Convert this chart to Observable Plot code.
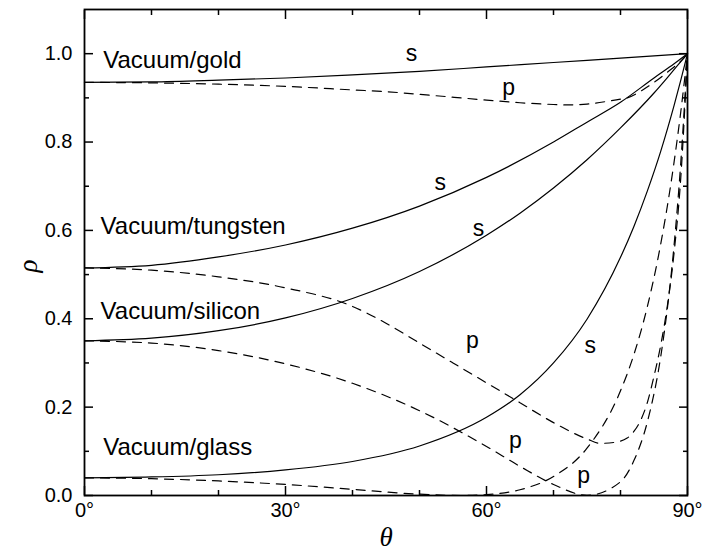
<!DOCTYPE html>
<html><head><meta charset="utf-8">
<script src="https://cdn.jsdelivr.net/npm/d3@7"></script>
<script src="https://cdn.jsdelivr.net/npm/@observablehq/plot@0.6"></script>
<style>body{margin:0;background:#fff}</style>
</head><body><div id="chart"></div>
<script>
// ---- data ----
const goldSAngles = [0,10,20,30,40,50,60,70,80,90];
const goldS       = [0.935,0.936,0.94,0.945,0.952,0.96,0.97,0.98,0.99,1.0];
const goldPAngles = [0,10,20,30,40,45,50,60,65,70,72,75,78,80,81,83,85,87,88,89,90];
const goldP       = [0.935,0.934,0.931,0.926,0.918,0.914,0.908,0.895,0.889,0.885,0.884,0.886,0.892,0.897,0.90,0.915,0.935,0.958,0.97,0.983,1.0];

const tungSAngles = [0,10,20,30,40,50,60,70,75,80,85,88,90];
const tungS       = [0.515,0.521,0.54,0.567,0.605,0.655,0.72,0.80,0.845,0.89,0.945,0.977,1.0];
const tungPAngles = [0,10,20,30,40,45,50,55,60,65,70,75,77,79,81,82,83,84,85,86,87,88,89,90];
const tungP       = [0.515,0.51,0.495,0.47,0.428,0.39,0.345,0.30,0.255,0.21,0.165,0.128,0.118,0.12,0.13,0.145,0.17,0.21,0.27,0.34,0.43,0.55,0.72,1.0];

const siSAngles = [0,10,20,30,40,50,60,65,70,75,80,85,87,89,90];
const siS       = [0.350,0.356,0.373,0.402,0.446,0.507,0.589,0.639,0.696,0.760,0.832,0.911,0.946,0.982,1.0];
const siPAngles = [0,10,20,30,40,50,60,65,70,75,80,82,84,86,87,88,89,90];
const siP       = [0.350,0.345,0.328,0.298,0.254,0.192,0.111,0.066,0.025,0.0004,0.031,0.079,0.166,0.314,0.424,0.567,0.754,1.0];

const glSAngles = [0,10,20,30,40,50,60,65,70,75,80,82,84,86,88,89,90];
const glS       = [0.040,0.042,0.047,0.058,0.077,0.112,0.177,0.228,0.300,0.399,0.539,0.609,0.689,0.779,0.883,0.940,1.0];
const glPAngles = [0,10,20,30,40,50,56.3,60,65,70,75,80,82,84,86,88,89,90];
const glP       = [0.040,0.038,0.033,0.025,0.014,0.003,0.0,0.002,0.013,0.043,0.107,0.237,0.319,0.427,0.569,0.755,0.869,1.0];

const xMajor = [0,30,60,90];
const xMinor = [10,20,40,50,70,80];
const yMajor = [0,0.2,0.4,0.6,0.8,1.0];
const yMinor = [0.1,0.3,0.5,0.7,0.9];

const curveLabels = ["Vacuum/gold","Vacuum/tungsten","Vacuum/silicon","Vacuum/glass"];
const curveLabelX = [2.8,2.4,2.4,2.8];
const curveLabelY = [0.985,0.61,0.417,0.109];

const polLabels = ["s","p","s","s","p","s","p","p"];
const polLabelX = [48.8,63.3,53.1,58.8,57.9,75.5,64.3,74.5];
const polLabelY = [1.001,0.924,0.709,0.605,0.351,0.34,0.125,0.045];

// ---- build tables ----
function rows(name, pol, angles, vals){ return angles.map((a,i)=>({theta:a, rho:vals[i], curve:name+"-"+pol, pol})); }
const table = [
  ...rows("gold","s",goldSAngles,goldS), ...rows("gold","p",goldPAngles,goldP),
  ...rows("tungsten","s",tungSAngles,tungS), ...rows("tungsten","p",tungPAngles,tungP),
  ...rows("silicon","s",siSAngles,siS), ...rows("silicon","p",siPAngles,siP),
  ...rows("glass","s",glSAngles,glS), ...rows("glass","p",glPAngles,glP)
];
const sRows = table.filter(d=>d.pol==="s");
const pRows = table.filter(d=>d.pol==="p");
const cLab = curveLabels.map((t,i)=>({t, x:curveLabelX[i], y:curveLabelY[i]}));
const pLab = polLabels.map((t,i)=>({t, x:polLabelX[i], y:polLabelY[i]}));

const sans = "'Liberation Sans', Arial, sans-serif";
const serif = "'Liberation Serif', 'Times New Roman', serif";
const blank = () => "";

const chart = Plot.plot({
  width: 703, height: 556,
  marginLeft: 84, marginRight: 16, marginTop: 9, marginBottom: 61,
  style: {fontFamily: sans, fontSize: "20px", color: "#000", background: "#fff"},
  x: {domain: [0,90], axis: null},
  y: {domain: [0,1.1], axis: null},
  marks: [
    Plot.line(sRows, {x:"theta", y:"rho", z:"curve", stroke:"#000", strokeWidth:1.2, curve:"monotone-x"}),
    Plot.line(pRows, {x:"theta", y:"rho", z:"curve", stroke:"#000", strokeWidth:1.2, strokeDasharray:"9,7", curve:"monotone-x"}),
    Plot.frame({stroke:"#000", strokeWidth:1.8}),
    Plot.axisX({ticks:xMajor, anchor:"bottom", tickSize:-9, tickPadding:16, tickFormat:d=>d+"°", label:null, fontSize:20, strokeWidth:1.5}),
    Plot.axisX({ticks:xMinor, anchor:"bottom", tickSize:-5, tickFormat:blank, label:null, strokeWidth:1.5}),
    Plot.axisX({ticks:xMajor, anchor:"top", tickSize:-9, tickFormat:blank, label:null, strokeWidth:1.5}),
    Plot.axisX({ticks:xMinor, anchor:"top", tickSize:-5, tickFormat:blank, label:null, strokeWidth:1.5}),
    Plot.axisY({ticks:yMajor, anchor:"left", tickSize:-9, tickPadding:21, tickFormat:d3.format(".1f"), label:null, fontSize:20, strokeWidth:1.5}),
    Plot.axisY({ticks:yMinor, anchor:"left", tickSize:-5, tickFormat:blank, label:null, strokeWidth:1.5}),
    Plot.axisY({ticks:yMajor, anchor:"right", tickSize:-9, tickFormat:blank, label:null, strokeWidth:1.5}),
    Plot.axisY({ticks:yMinor, anchor:"right", tickSize:-5, tickFormat:blank, label:null, strokeWidth:1.5}),
    Plot.text(cLab, {x:"x", y:"y", text:"t", textAnchor:"start", fontSize:24, fill:"#000"}),
    Plot.text(pLab, {x:"x", y:"y", text:"t", fontSize:23, fill:"#000"}),
    Plot.text(["θ"], {frameAnchor:"bottom", dy:50, text:d=>d, fontSize:27, fontStyle:"italic", fontFamily:serif, fill:"#000"}),
    Plot.text(["ρ"], {frameAnchor:"left", dx:-56, dy:20, rotate:-90, text:d=>d, fontSize:27, fontStyle:"italic", fontFamily:serif, fill:"#000"})
  ]
});
document.getElementById("chart").appendChild(chart);
</script>
</body></html>
